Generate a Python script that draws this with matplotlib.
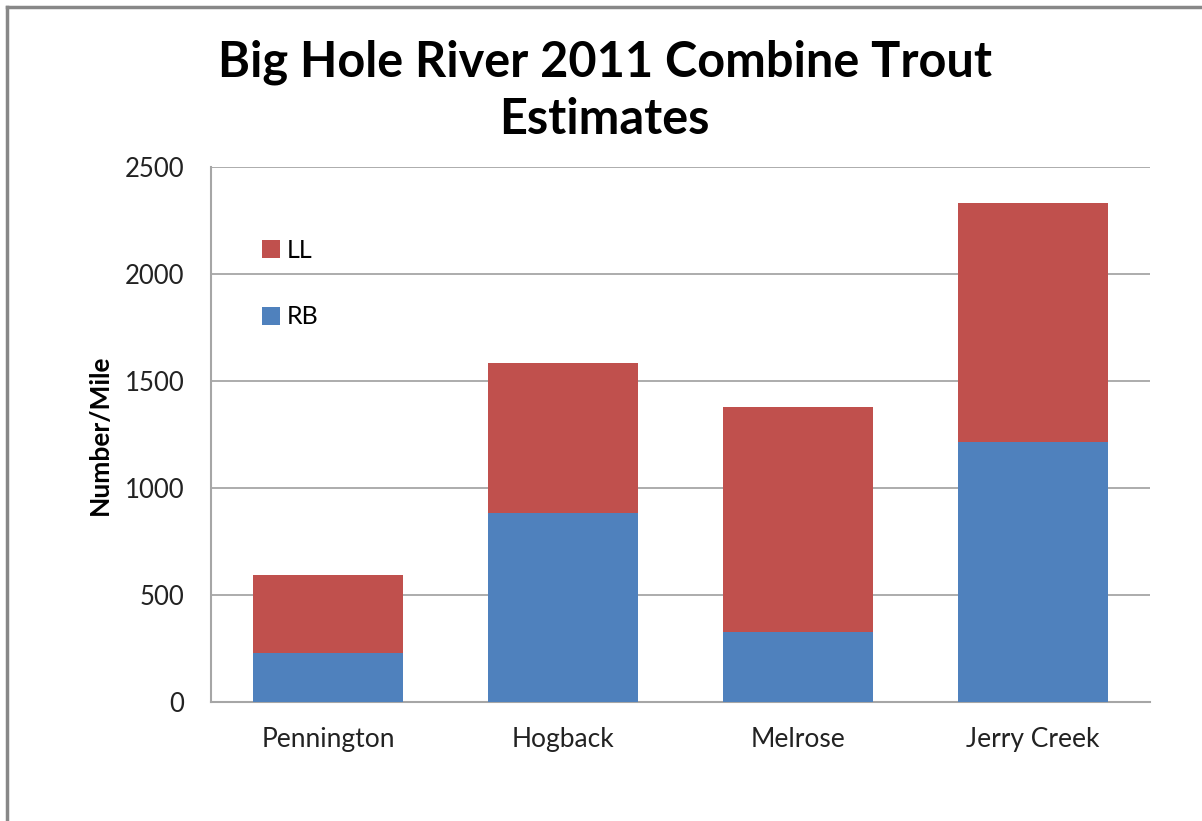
import matplotlib.pyplot as plt
from matplotlib.lines import Line2D

# Trout estimates per mile, by reach
sites = ["Pennington", "Hogback", "Melrose", "Jerry Creek"]
rb = [230, 885, 327, 1215]
ll = [365, 700, 1052, 1117]
yticks = [0, 500, 1000, 1500, 2000, 2500]

blue = "#4F81BD"
red = "#C0504D"
grid_grey = "#A6A6A6"

plt.rcParams["font.family"] = ["Lato", "DejaVu Sans"]

fig = plt.figure(figsize=(12.02, 8.21), dpi=100)
ax = fig.add_axes([211 / 1202, 1 - 702 / 821, 939 / 1202, 535 / 821])

x = range(len(sites))
width = 0.64
ax.bar(x, rb, width, color=blue, label="RB", zorder=3)
ax.bar(x, ll, width, bottom=rb, color=red, label="LL", zorder=3)

ax.set_xlim(-0.5, len(sites) - 0.5)
ax.set_ylim(0, 2500)
ax.set_yticks(yticks)
ax.set_xticks(list(x))
ax.set_xticklabels(sites)
ax.tick_params(length=0, colors="#222222")
ax.tick_params(axis="y", labelsize=18.5, pad=19)
ax.tick_params(axis="x", labelsize=19, pad=18)

ax.yaxis.grid(True, color=grid_grey, linewidth=1.3, zorder=0)
for side in ["top", "right"]:
    ax.spines[side].set_visible(False)
for side in ["left", "bottom"]:
    ax.spines[side].set_color(grid_grey)
    ax.spines[side].set_linewidth(1.5)

ax.set_ylabel("Number/Mile", fontsize=19, fontweight="bold", labelpad=9)

handles, labels = ax.get_legend_handles_labels()
ax.legend(handles[::-1], labels[::-1], loc="upper left",
          bbox_to_anchor=(0.03, 0.908), frameon=False, fontsize=18,
          handlelength=0.75, handleheight=0.75, handletextpad=0.25,
          labelspacing=1.75)

fig.text(0.503, 0.889, "Big Hole River 2011 Combine Trout\nEstimates",
         ha="center", va="center", fontsize=35, fontweight="bold",
         linespacing=1.32)

# outer chart frame
fig.add_artist(Line2D([7 / 1202, 7 / 1202], [0, 1 - 7 / 821],
                      transform=fig.transFigure, color="#888888", linewidth=2.5))
fig.add_artist(Line2D([7 / 1202, 1], [1 - 7 / 821, 1 - 7 / 821],
                      transform=fig.transFigure, color="#888888", linewidth=2.5))

fig.savefig("out.png", dpi=100)
